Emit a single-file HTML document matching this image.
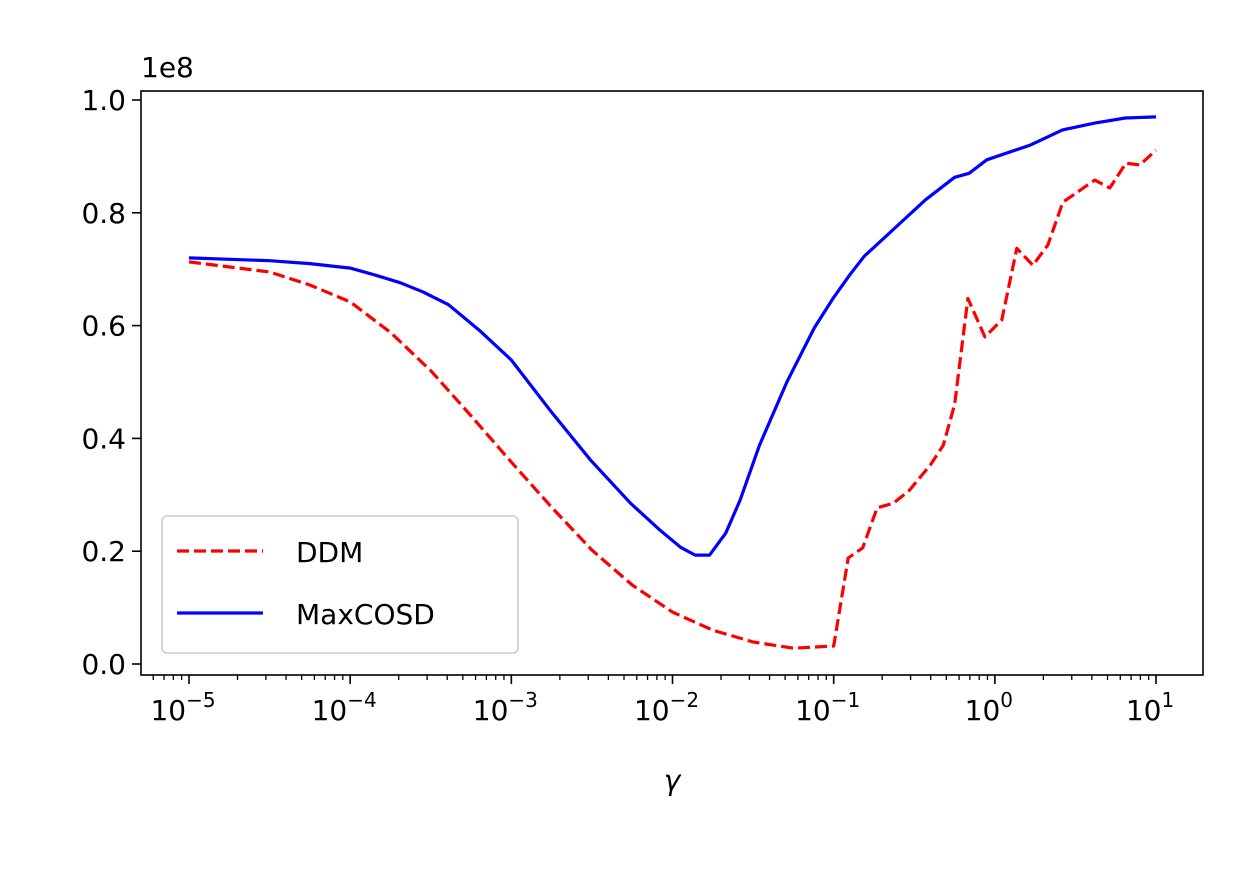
<!DOCTYPE html>
<html><head><meta charset="utf-8"><style>
body{margin:0;background:#fff}
svg text{font-family:"DejaVu Sans","Liberation Sans",sans-serif;fill:#000}
</style></head><body>
<svg id="chart" width="1248" height="873" viewBox="0 0 1248 873" xmlns="http://www.w3.org/2000/svg"></svg>
<script>
const xTickExps=[-5,-4,-3,-2,-1,0,1];
const yTicks=[0.0,0.2,0.4,0.6,0.8,1.0];
const yTickLabels=["0.0","0.2","0.4","0.6","0.8","1.0"];
const ddmLogX=[-5,-4.5,-4.25,-4,-3.75,-3.5,-3.25,-3,-2.75,-2.5,-2.25,-2,-1.75,-1.5,-1.25,-1,-0.91,-0.82,-0.73,-0.63,-0.53,-0.4,-0.32,-0.25,-0.167,-0.062,0.043,0.136,0.236,0.329,0.422,0.62,0.713,0.813,0.9,1.0];
const ddmY=[0.713,0.695,0.672,0.642,0.588,0.52,0.44,0.358,0.278,0.202,0.14,0.092,0.06,0.039,0.028,0.032,0.188,0.206,0.277,0.285,0.308,0.353,0.388,0.46,0.648,0.58,0.61,0.737,0.707,0.743,0.819,0.858,0.844,0.888,0.885,0.911];
const cosdLogX=[-5,-4.5,-4.25,-4,-3.85,-3.69,-3.55,-3.39,-3.2,-3,-2.76,-2.51,-2.26,-2.08,-1.95,-1.86,-1.77,-1.67,-1.58,-1.46,-1.29,-1.12,-1,-0.9,-0.81,-0.62,-0.43,-0.25,-0.16,-0.05,0.22,0.42,0.62,0.81,1.0];
const cosdY=[0.72,0.715,0.71,0.702,0.69,0.676,0.66,0.637,0.592,0.539,0.45,0.362,0.285,0.238,0.207,0.193,0.193,0.232,0.291,0.388,0.5,0.596,0.65,0.69,0.723,0.773,0.823,0.863,0.87,0.894,0.92,0.947,0.959,0.968,0.97];

const svg=document.getElementById('chart');
const NS="http://www.w3.org/2000/svg";
const L=141,R=1203,T=91,B=675;
const sx=v=>189+(v+5)*161.17;
const sy=v=>664-v*564;
function mk(tag,attrs,parent){const e=document.createElementNS(NS,tag);for(const k in attrs)e.setAttribute(k,attrs[k]);(parent||svg).appendChild(e);return e;}

for(let d=-6;d<=1;d++){for(let m=2;m<=9;m++){const v=d+Math.log10(m);const x=sx(v);if(x<L||x>R)continue;
 const t=mk('line',{x1:x,x2:x,y1:B,y2:B+5,stroke:'#000','stroke-width':1.3});
 
 }}
xTickExps.forEach(e=>{const x=sx(e);
 const t=mk('line',{x1:x,x2:x,y1:B,y2:B+9,stroke:'#000','stroke-width':1.6});
 
 
 const tx=mk('text',{x:x-6,y:B+45,'font-size':28,'text-anchor':'middle'});
 
 
 tx.textContent='10';
 const sp=mk('tspan',{dy:-13,'font-size':20},tx);sp.textContent=e<0?'\u2212'+(-e):String(e);
});
yTicks.forEach((v,i)=>{const y=sy(v);
 const t=mk('line',{x1:L-9,x2:L,y1:y,y2:y,stroke:'#000','stroke-width':1.6});
 
 
 const tx=mk('text',{x:L-15,y:y+10,'font-size':28,'text-anchor':'end'});
 
 
 tx.textContent=yTickLabels[i];
});
const off=mk('text',{x:141,y:77,'font-size':28});


off.textContent='1e8';
const xl=mk('text',{x:672,y:790,'font-size':28,'font-style':'italic','text-anchor':'middle'});


xl.textContent='γ';

function line(xs,ys,color,dash,name){
 const d=xs.map((v,i)=>(i?'L':'M')+sx(v).toFixed(1)+','+sy(ys[i]).toFixed(1)).join(' ');
 const p=mk('path',{d:d,fill:'none',stroke:color,'stroke-width':3.2,'stroke-dasharray':dash||'none','stroke-linejoin':'round'});
 
 
}
line(ddmLogX,ddmY,'#ff0000','12,5','ddm-line');
line(cosdLogX,cosdY,'#0000ff',null,'maxcosd-line');

const fr=mk('rect',{x:L,y:T,width:R-L,height:B-T,fill:'none',stroke:'#000','stroke-width':1.6});



const lg=mk('g',{});


mk('rect',{x:162,y:516,width:356,height:137,rx:5,fill:'#fff','fill-opacity':0.8,stroke:'#ccc','stroke-width':1.6},lg);
mk('line',{x1:177,x2:263,y1:551,y2:551,stroke:'#ff0000','stroke-width':3.2,'stroke-dasharray':'12,5'},lg);
mk('line',{x1:177,x2:263,y1:613,y2:613,stroke:'#0000ff','stroke-width':3.2},lg);
const t1=mk('text',{x:296,y:562,'font-size':28},lg);t1.textContent='DDM';


const t2=mk('text',{x:296,y:624,'font-size':28},lg);t2.textContent='MaxCOSD';


</script>
</body></html>
